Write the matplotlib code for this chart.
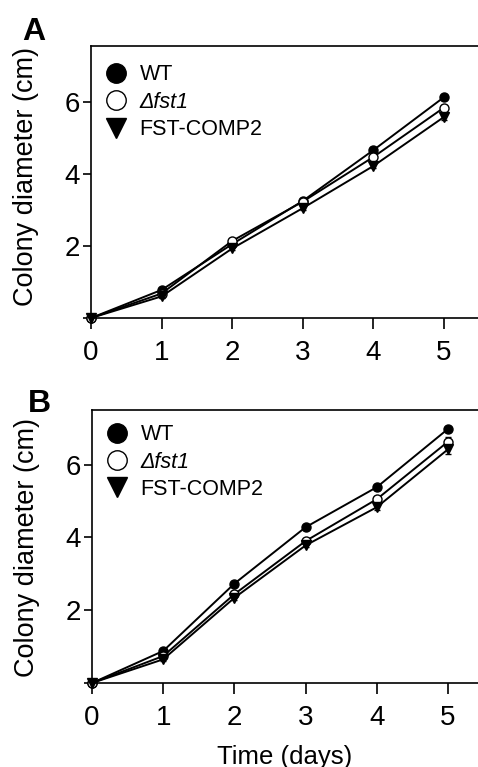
import numpy as np
import matplotlib
matplotlib.use('Agg')
import matplotlib.pyplot as plt
from matplotlib.lines import Line2D

plt.rcParams['font.family'] = ['Liberation Sans', 'DejaVu Sans']

# donnees
days = [0, 1, 2, 3, 4, 5]
labels = ['WT', 'Δfst1', 'FST-COMP2']

wt_A = [0, 0.78, 2.05, 3.25, 4.66, 6.13]
fst1_A = [0, 0.68, 2.14, 3.23, 4.47, 5.84]
comp_A = [0, 0.60, 1.93, 3.05, 4.22, 5.58]
err_wt_A = [0, 0.04, 0.06, 0.08, 0.08, 0.07]
err_fst1_A = [0, 0.04, 0.06, 0.06, 0.07, 0.08]
err_comp_A = [0, 0.04, 0.05, 0.05, 0.06, 0.09]

wt_B = [0, 0.88, 2.73, 4.28, 5.38, 6.98]
fst1_B = [0, 0.74, 2.44, 3.90, 5.05, 6.63]
comp_B = [0, 0.65, 2.34, 3.78, 4.83, 6.42]
err_wt_B = [0, 0.06, 0.05, 0.05, 0.07, 0.06]
err_fst1_B = [0, 0.05, 0.06, 0.06, 0.08, 0.12]
err_comp_B = [0, 0.05, 0.05, 0.05, 0.08, 0.12]

fig = plt.figure(figsize=(4.78, 7.67), dpi=100)
axA = fig.add_axes([91/478, 1-318/767, 1-91/478, 272/767])
axB = fig.add_axes([92/478, 1-683/767, 1-92/478, 273/767])


def panel(ax, wt, fst1, comp, ewt, efst, ecomp, xmax, ymax, legy, labely):
    styles = [('o', 'black', wt, ewt), ('o', 'white', fst1, efst), ('v', 'black', comp, ecomp)]
    for m, fc, y, e in styles:
        ax.errorbar(days, y, yerr=e, color='black', lw=1.4, marker=m, ms=6.5,
                    mfc=fc, mec='black', mew=1.0, capsize=2.5, elinewidth=1.0,
                    clip_on=False)
    ax.set_xlim(0, xmax)
    ax.set_ylim(0, ymax)
    ax.set_xticks(days)
    ax.set_yticks([0, 2, 4, 6])
    ax.set_yticklabels(['', '2', '4', '6'])
    ax.tick_params(axis='both', labelsize=20, width=1.2)
    ax.tick_params(axis='x', length=8, pad=8)
    ax.tick_params(axis='y', length=6, pad=2)
    ax.spines['right'].set_visible(False)
    for s in ['left', 'top', 'bottom']:
        ax.spines[s].set_linewidth(1.2)
    ax.set_ylabel('Colony diameter (cm)', fontsize=19.5)
    ax.yaxis.set_label_coords(-0.135, labely)

    # legende (grands symboles, sans barres d'erreur)
    hs = [Line2D([], [], ls='none', marker='o', mfc='black', mec='black', ms=14),
          Line2D([], [], ls='none', marker='o', mfc='white', mec='black', ms=14, mew=1.0),
          Line2D([], [], ls='none', marker='v', mfc='black', mec='black', ms=15)]
    leg = ax.legend(hs, labels, loc='upper left', frameon=False, fontsize=15.5,
                    handlelength=0.8, handletextpad=0.7, labelspacing=0.3,
                    borderaxespad=0.0, bbox_to_anchor=(0.02, legy))
    leg.get_texts()[1].set_fontstyle('italic')


panel(axA, wt_A, fst1_A, comp_A, err_wt_A, err_fst1_A, err_comp_A,
      (478-91)/70.6, 7.55, 0.965, 0.52)
panel(axB, wt_B, fst1_B, comp_B, err_wt_B, err_fst1_B, err_comp_B,
      (478-92)/71.2, 7.5, 0.98, 0.495)
axB.set_xlabel('Time (days)', fontsize=18.5, labelpad=10)

fig.text(22/478, 1-40/767, 'A', fontsize=23, fontweight='bold')
fig.text(28/478, 1-412/767, 'B', fontsize=23, fontweight='bold')

fig.savefig('out.png', dpi=100)
